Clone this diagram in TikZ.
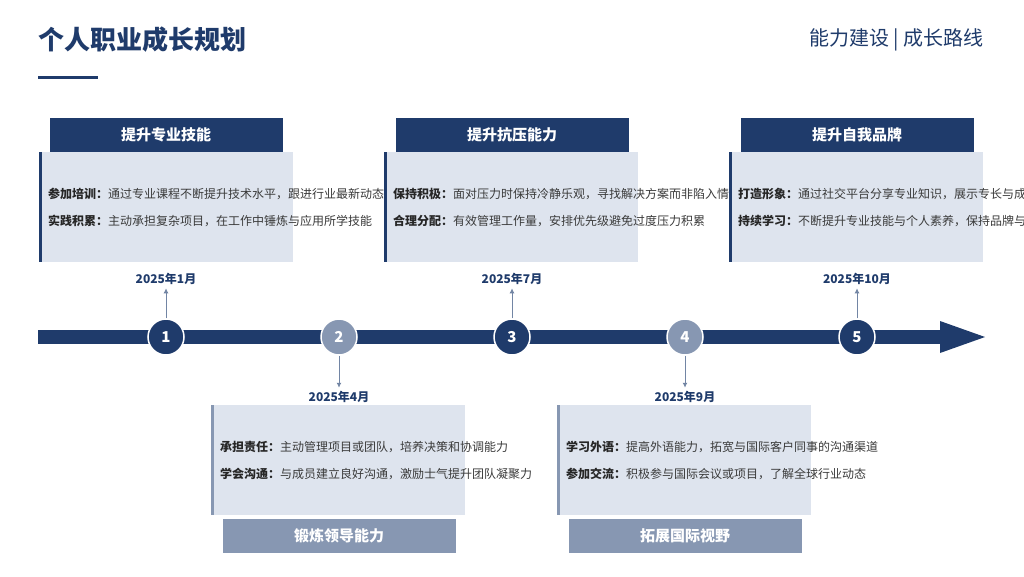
\documentclass[tikz,border=0pt]{standalone}
\usepackage{fontspec}
\setmainfont{Noto Sans CJK SC}
\usetikzlibrary{positioning,arrows.meta}
\definecolor{navy}{HTML}{1F3B6B}
\definecolor{steel}{HTML}{8797B2}
\definecolor{pale}{HTML}{DEE4EE}
\definecolor{ink}{HTML}{3A3A3A}
\newcommand{\itemlab}[1]{{\bfseries\color{black!85}#1：}}

\begin{document}
\begin{tikzpicture}[
    x=1pt, y=-1pt,
    header/.style={rectangle, fill=navy, text=white, font=\fontsize{15}{18}\selectfont\bfseries, minimum width=233pt, minimum height=34pt, inner sep=0pt},
    subheader/.style={header, fill=steel},
    card/.style={rectangle, fill=pale, text=ink, font=\fontsize{12}{19}\selectfont, text width=237pt, minimum height=110pt, align=left, inner xsep=8pt, inner ysep=6pt},
    mile/.style={circle, fill=navy, draw=white, line width=1.5pt, text=white, font=\fontsize{15}{15}\selectfont\bfseries, minimum size=36pt, inner sep=0pt},
    submile/.style={mile, fill=steel},
    date/.style={font=\fontsize{12}{14}\selectfont\bfseries, text=navy},
    tick/.style={-{Latex[length=5pt,width=5pt]}, draw=steel!80!navy, line width=1pt}
]
    \useasboundingbox (0,0) rectangle (1024,576);
    \fill[white] (0,0) rectangle (1024,576);

    % title
    \node[anchor=west, font=\fontsize{26}{30}\selectfont\bfseries, text=navy, inner sep=0pt] (title) at (38,40) {个人职业成长规划};
    \draw[navy, line width=3pt] (38,77) -- (98,77);
    \node[anchor=east, font=\fontsize{20}{24}\selectfont, text=navy, inner sep=0pt] (tag) at (984,40) {能力建设 | 成长路线};

    % timeline
    \fill[navy] (38,330) rectangle (942,344);
    \fill[navy] (940,321) -- (985,337) -- (940,353) -- cycle;

    \node[mile] (m1) at (166,337) {1};
    \node[submile] (m2) at (339,337) {2};
    \node[mile] (m3) at (512,337) {3};
    \node[submile] (m4) at (685,337) {4};
    \node[mile] (m5) at (857,337) {5};

    % dates
    \node[date] (d1) at (166,279) {2025年1月};
    \node[date] (d2) at (339,397) {2025年4月};
    \node[date] (d3) at (512,279) {2025年7月};
    \node[date] (d4) at (685,397) {2025年9月};
    \node[date] (d5) at (857,279) {2025年10月};
    \draw[tick] (m1.north) -- (d1.south);
    \draw[tick] (m2.south) -- (d2.north);
    \draw[tick] (m3.north) -- (d3.south);
    \draw[tick] (m4.south) -- (d4.north);
    \draw[tick] (m5.north) -- (d5.south);

    % upper cards
    \node[header] (h1) at (166,135) {提升专业技能};
    \node[card, anchor=north west] (c1) at (40,152) {\itemlab{参加培训}通过专业课程不断提升技术水平，跟进行业最新动态\\[8pt]\itemlab{实践积累}主动承担复杂项目，在工作中锤炼与应用所学技能};
    \draw[navy, line width=3pt] (c1.north west) -- (c1.south west);

    \node[header] (h3) at (512,135) {提升抗压能力};
    \node[card, anchor=north west] (c3) at (385,152) {\itemlab{保持积极}面对压力时保持冷静乐观，寻找解决方案而非陷入情绪\\[8pt]\itemlab{合理分配}有效管理工作量，安排优先级避免过度压力积累};
    \draw[navy, line width=3pt] (c3.north west) -- (c3.south west);

    \node[header] (h5) at (857,135) {提升自我品牌};
    \node[card, anchor=north west] (c5) at (730,152) {\itemlab{打造形象}通过社交平台分享专业知识，展示专长与成就\\[8pt]\itemlab{持续学习}不断提升专业技能与个人素养，保持品牌与时俱进};
    \draw[navy, line width=3pt] (c5.north west) -- (c5.south west);

    % lower cards
    \node[card, anchor=north west] (c2) at (212,405) {\itemlab{承担责任}主动管理项目或团队，培养决策和协调能力\\[8pt]\itemlab{学会沟通}与成员建立良好沟通，激励士气提升团队凝聚力};
    \draw[steel, line width=3pt] (c2.north west) -- (c2.south west);
    \node[subheader] (h2) at (339,536) {锻炼领导能力};

    \node[card, anchor=north west] (c4) at (558,405) {\itemlab{学习外语}提高外语能力，拓宽与国际客户同事的沟通渠道\\[8pt]\itemlab{参加交流}积极参与国际会议或项目，了解全球行业动态};
    \draw[steel, line width=3pt] (c4.north west) -- (c4.south west);
    \node[subheader] (h4) at (685,536) {拓展国际视野};
\end{tikzpicture}
\end{document}
